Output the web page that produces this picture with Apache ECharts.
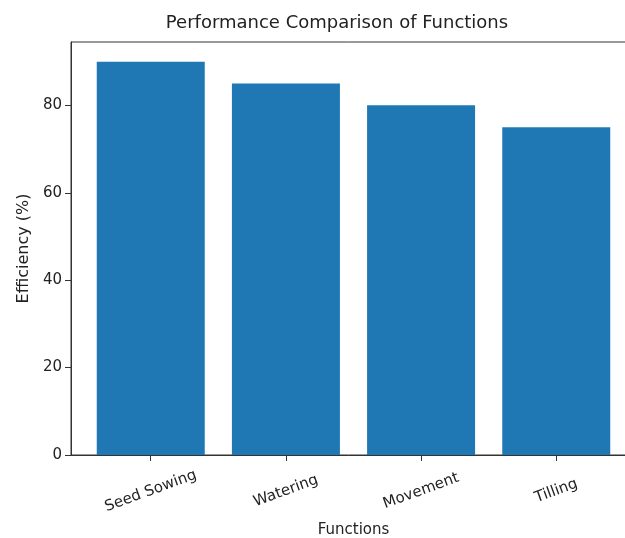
<!DOCTYPE html>
<html>
<head>
<meta charset="utf-8">
<script src="https://cdn.jsdelivr.net/npm/echarts@6/dist/echarts.min.js"></script>
<style>html,body{margin:0;padding:0;background:#fff;}#c{width:625px;height:538px;}</style>
</head>
<body>
<div id="c"></div>
<script>
const categories = ['Seed Sowing', 'Watering', 'Movement', 'Tilling'];
const efficiency = [90, 85, 80, 75];
const yTicks = [0, 20, 40, 60, 80];

const chart = echarts.init(document.getElementById('c'), null, {renderer: 'canvas'});
const font = 'DejaVu Sans';
chart.setOption({
  animation: false,
  backgroundColor: '#fff',
  title: {
    text: 'Performance Comparison of Functions',
    left: 332, top: 9, textAlign: 'center',
    textStyle: {fontFamily: font, fontSize: 18, fontWeight: 'normal', color: '#222'}
  },
  grid: {
    left: 71, top: 42, bottom: 83, right: -11,
    outerBoundsMode: 'none', containLabel: false,
    show: true, borderColor: '#333', borderWidth: 1, backgroundColor: 'transparent'
  },
  xAxis: {
    type: 'value',
    min: -0.59, max: 3.59,
    name: 'Functions', nameLocation: 'middle', nameGap: 68,
    nameTextStyle: {fontFamily: font, fontSize: 15, color: '#222'},
    axisLine: {show: true, onZero: false, lineStyle: {color: '#333', width: 1}},
    axisTick: {show: true, length: 6, lineStyle: {color: '#333'}, customValues: categories.map((c, i) => i)},
    axisLabel: {
      customValues: categories.map((c, i) => i),
      formatter: v => categories[Math.round(v)] || '',
      rotate: 20, align: 'center', verticalAlign: 'middle', margin: 36,
      fontFamily: font, fontSize: 15, color: '#222'
    },
    splitLine: {show: false}
  },
  yAxis: {
    type: 'value',
    min: 0, max: 94.5,
    name: 'Efficiency (%)', nameLocation: 'middle', nameGap: 34,
    nameTextStyle: {fontFamily: font, fontSize: 16, color: '#222'},
    axisLine: {show: true, onZero: false, lineStyle: {color: '#333', width: 1}},
    axisTick: {show: true, length: 6, lineStyle: {color: '#333'}, customValues: yTicks},
    axisLabel: {customValues: yTicks, margin: 9, fontFamily: font, fontSize: 15, color: '#222'},
    splitLine: {show: false}
  },
  tooltip: {show: false},
  series: [{
    type: 'bar',
    data: efficiency.map((v, i) => [i, v]),
    barWidth: 108,
    itemStyle: {color: '#1f77b4'}
  }]
});
</script>
</body>
</html>
